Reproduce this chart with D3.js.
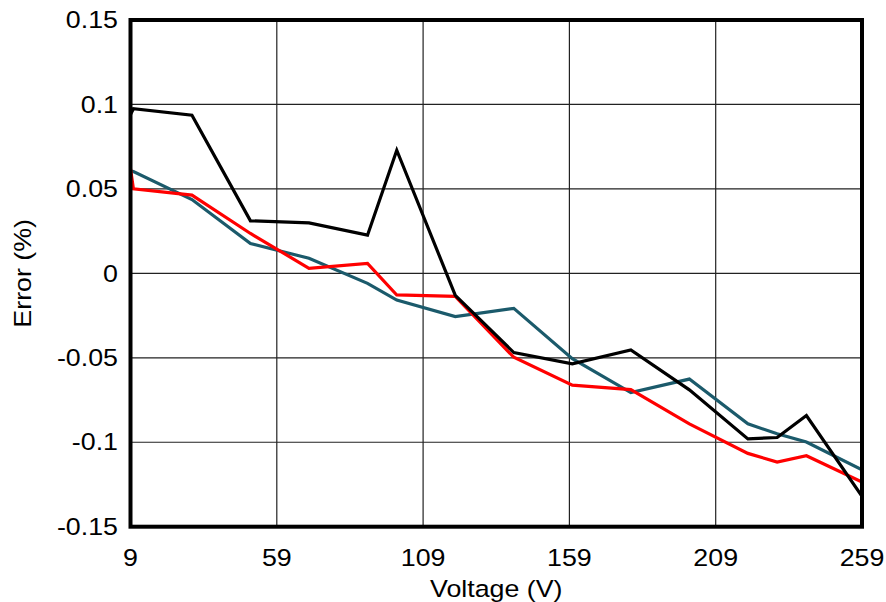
<!DOCTYPE html>
<html>
<head>
<meta charset="utf-8">
<script src="https://cdn.jsdelivr.net/npm/d3@7"></script>
<style>
  html, body { margin: 0; padding: 0; background: #fff; }
  svg { display: block; }
  text { font-family: "Liberation Sans", Arial, sans-serif; fill: #000; }
</style>
</head>
<body>
<svg id="chart" width="886" height="602"></svg>
<script>
// ---- Data ----
const voltage = [9, 10, 30, 50, 70, 90, 100, 120, 140, 160, 180, 200, 220, 230, 240, 259];
const seriesBlack = [0.094, 0.0975, 0.0936, 0.0311, 0.0299, 0.0226, 0.0729, -0.013, -0.0469, -0.0536, -0.0453, -0.069, -0.098, -0.0972, -0.0842, -0.132];
const seriesRed   = [0.062, 0.050, 0.0463, 0.0236, 0.003, 0.0059, -0.0128, -0.0136, -0.0497, -0.0662, -0.0688, -0.0891, -0.1066, -0.1117, -0.108, -0.1236];
const seriesTeal  = [0.0606, 0.0603, 0.0437, 0.0177, 0.0089, -0.0059, -0.0158, -0.0256, -0.0207, -0.0505, -0.0706, -0.0626, -0.0891, -0.095, -0.0999, -0.1163];
const xTicks = [9, 59, 109, 159, 209, 259];
const yTicks = [0.15, 0.1, 0.05, 0, -0.05, -0.1, -0.15];
const yTickLabels = ["0.15", "0.1", "0.05", "0", "-0.05", "-0.1", "-0.15"];
const xTitle = "Voltage (V)";
const yTitle = "Error (%)";

(function () {
// ---- Layout ----
const svg = d3.select("#chart");
const mLeft = 130.5, mRight = 862, mTop = 20, mBottom = 526.7;
const x = d3.scaleLinear().domain([9, 259]).range([mLeft, mRight]);
const y = d3.scaleLinear().domain([-0.15, 0.15]).range([mBottom, mTop]);
const fontSize = 23.5, stretch = 1.14;

// clip
svg.append("clipPath").attr("id", "clip")
  .append("rect").attr("x", mLeft).attr("y", mTop).attr("width", mRight - mLeft).attr("height", mBottom - mTop);

// grid
const grid = svg.append("g");
grid.selectAll("line.v").data(xTicks.slice(1, -1)).join("line")
  .attr("x1", d => x(d)).attr("x2", d => x(d)).attr("y1", mTop).attr("y2", mBottom)
  .attr("stroke", "#222").attr("stroke-width", 1.2);
grid.selectAll("line.h").data(yTicks.slice(1, -1)).join("line")
  .attr("y1", d => y(d)).attr("y2", d => y(d)).attr("x1", mLeft).attr("x2", mRight)
  .attr("stroke", "#222").attr("stroke-width", 1.2);

// lines
const line = d3.line().x((d, i) => x(voltage[i])).y(d => y(d));
const plot = svg.append("g").attr("clip-path", "url(#clip)");
[[seriesTeal, "#1b5a6b"], [seriesRed, "#ff0000"], [seriesBlack, "#000000"]].forEach(([s, c]) => {
  plot.append("path").datum(s).attr("d", line)
    .attr("fill", "none").attr("stroke", c).attr("stroke-width", 3.2)
    .attr("stroke-linejoin", "miter").attr("stroke-miterlimit", 4);
});

// frame
svg.append("rect").attr("x", mLeft).attr("y", mTop).attr("width", mRight - mLeft).attr("height", mBottom - mTop)
  .attr("fill", "none").attr("stroke", "#000").attr("stroke-width", 4);

// y tick labels
svg.append("g").selectAll("text").data(yTicks).join("text")
  .attr("transform", d => `translate(118,${y(d)}) scale(${stretch},1)`)
  .attr("text-anchor", "end").attr("dy", "0.35em")
  .style("font-size", fontSize + "px")
  .text((d, i) => yTickLabels[i]);

// x tick labels
svg.append("g").selectAll("text").data(xTicks).join("text")
  .attr("transform", d => `translate(${x(d)},566) scale(${stretch},1)`)
  .attr("text-anchor", "middle")
  .style("font-size", fontSize + "px")
  .text(d => d);

// titles
svg.append("text")
  .attr("transform", `translate(${(mLeft + mRight) / 2},596.5) scale(${stretch},1)`)
  .attr("text-anchor", "middle").style("font-size", fontSize + "px").text(xTitle);
svg.append("text")
  .attr("transform", `translate(30.5,${(mTop + mBottom) / 2}) rotate(-90) scale(${stretch},1)`)
  .attr("text-anchor", "middle").style("font-size", fontSize + "px").text(yTitle);
})();
</script>
</body>
</html>
